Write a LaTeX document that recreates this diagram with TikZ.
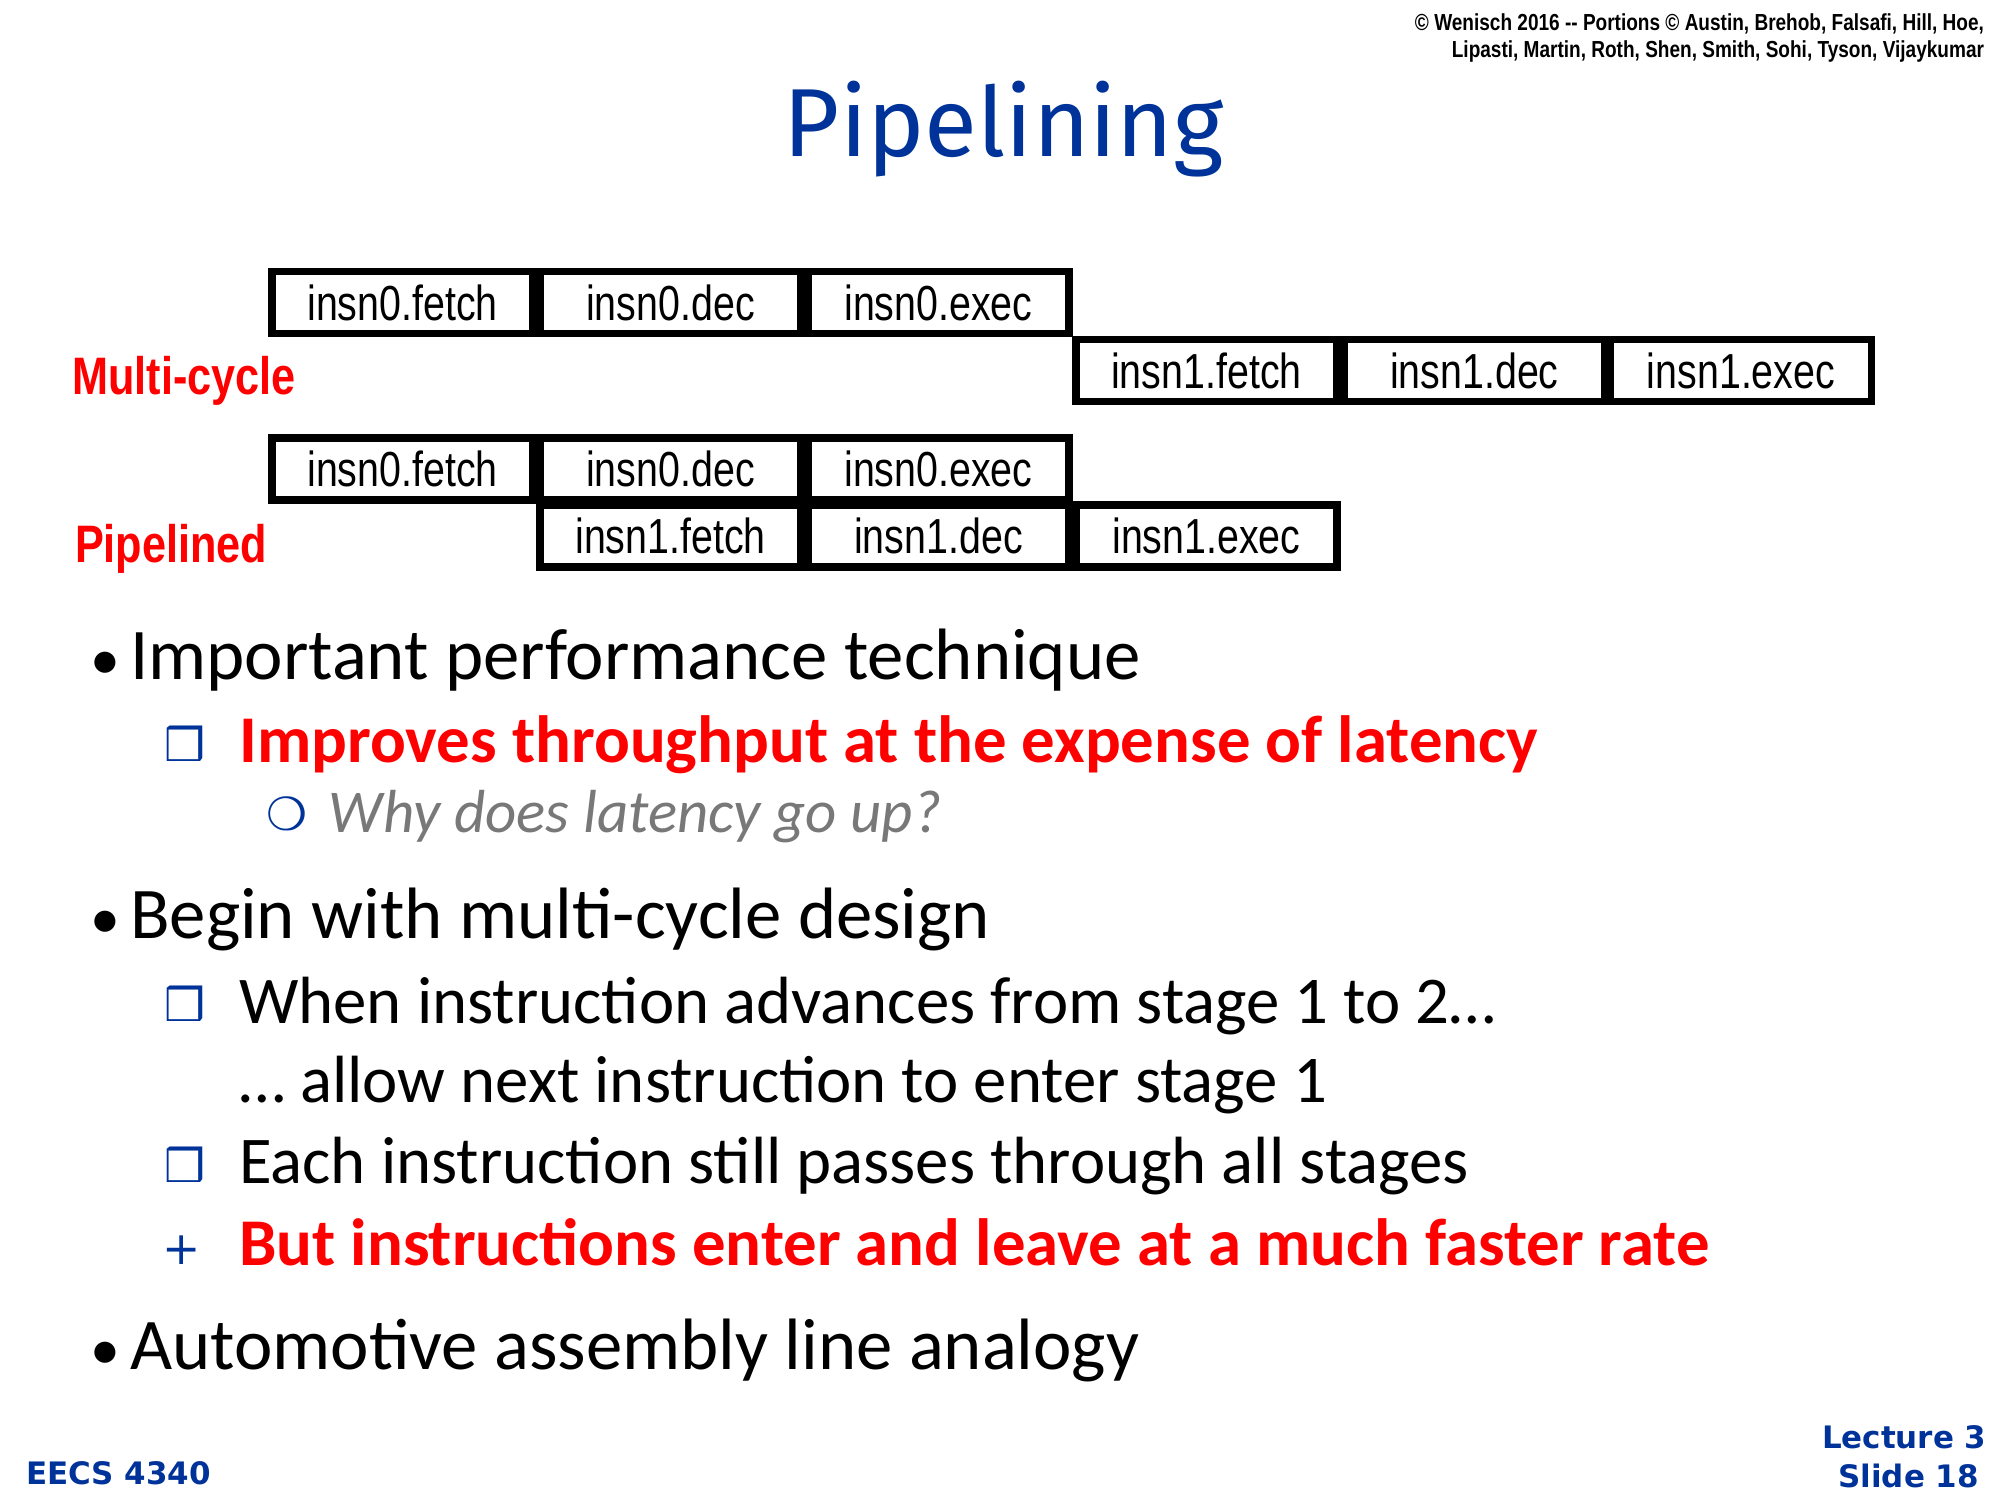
\documentclass[tikz,border=0pt]{standalone}
\usepackage{fontspec}
\setmainfont{Carlito}
\newfontfamily\narrowfont[FakeStretch=0.82]{Liberation Sans}
\newfontfamily\boxfont[FakeStretch=0.8]{Liberation Sans}
\newfontfamily\symfont{DejaVu Sans}
\newfontfamily\titlefont{Fira Sans}
\usetikzlibrary{positioning}
\definecolor{slideblue}{RGB}{0,51,153}
\definecolor{slidered}{RGB}{255,0,0}
\definecolor{slidegray}{RGB}{120,120,120}
\tikzset{
  % pipeline stage box
  stage/.style={draw, line width=2.2pt, minimum width=2.61cm, minimum height=0.62cm,
    inner sep=0pt, font=\boxfont\fontsize{14}{14}\selectfont},
  % row label
  rowlbl/.style={anchor=base west, text=slidered, inner sep=0pt,
    font=\narrowfont\bfseries\fontsize{15}{15}\selectfont},
  % text lines
  txt/.style={anchor=base west, inner sep=0pt},
  lvlA/.style={txt, font=\fontsize{20.7}{20.7}\selectfont},
  lvlB/.style={txt, font=\fontsize{19}{19}\selectfont},
  lvlC/.style={txt, font=\itshape\fontsize{17.3}{17.3}\selectfont, text=slidegray},
  dot/.style={txt, font=\fontsize{17}{17}\selectfont},
  bmark/.style={txt, text=slideblue, font=\symfont\fontsize{13}{13}\selectfont},
  foot/.style={inner sep=0pt, text=slideblue, font=\symfont\bfseries\fontsize{8.8}{8.8}\selectfont},
  copyl/.style={anchor=base east, inner sep=0pt, font=\narrowfont\bfseries\fontsize{6.6}{6.6}\selectfont},
}
\begin{document}
\begin{tikzpicture}[x=0.012821cm, y=-0.012821cm]
\useasboundingbox (0,0) rectangle (1560,1170);

% header
\node[copyl] (copy1) at (1548,24) {© Wenisch 2016 -- Portions © Austin, Brehob, Falsafi, Hill, Hoe,};
\node[copyl] (copy2) at (1548,45) {Lipasti, Martin, Roth, Shen, Smith, Sohi, Tyson, Vijaykumar};
\node[anchor=base, inner sep=0pt, text=slideblue,
  font=\titlefont\fontsize{27.5}{27.5}\selectfont] (title) at (783,122) {Pipelining};

% multi-cycle rows
\foreach \name/\lbl/\x/\y in {m0f/insn0.fetch/314/236, m0d/insn0.dec/523/236,
    m0e/insn0.exec/732/236, m1f/insn1.fetch/941/289, m1d/insn1.dec/1150/289,
    m1e/insn1.exec/1358/289,
    p0f/insn0.fetch/314/366, p0d/insn0.dec/523/366, p0e/insn0.exec/732/366,
    p1f/insn1.fetch/523/418, p1d/insn1.dec/732/418, p1e/insn1.exec/941/418}
  \node[stage] (\name) at (\x,\y) {\lbl};
\node[rowlbl] (multi) at (56,308) {Multi-cycle};
\node[rowlbl] (pipe) at (58,439) {Pipelined};

% bullets
\node[dot] at (70,530) {•};
\node[lvlA] (b1) at (101,530) {Important performance technique};
\node[bmark] at (128,594) {❒};
\node[lvlB, text=slidered, font=\bfseries\fontsize{19}{19}\selectfont] (b11) at (186,595)
  {Improves throughput at the expense of latency};
\node[bmark] at (207,648) {❍};
\node[lvlC] (b111) at (256,649) {Why does latency go up?};

\node[dot] at (70,732) {•};
\node[lvlA] (b2) at (101,732) {Begin with multi-cycle design};
\node[bmark] at (128,797) {❒};
\node[lvlB] (b21) at (186,798) {When instruction advances from stage 1 to 2…};
\node[lvlB] (b22) at (186,860) {… allow next instruction to enter stage 1};
\node[bmark] at (128,922) {❒};
\node[lvlB] (b23) at (186,923) {Each instruction still passes through all stages};
\node[bmark] at (126,986) {+};
\node[lvlB, text=slidered, font=\bfseries\fontsize{19}{19}\selectfont] (b24) at (186,987)
  {But instructions enter and leave at a much faster rate};

\node[dot] at (70,1068) {•};
\node[lvlA] (b3) at (101,1068) {Automotive assembly line analogy};

% footer
\node[foot, anchor=base west] (course) at (20,1158) {EECS 4340};
\node[foot, anchor=base east] (lect) at (1550,1130) {Lecture 3};
\node[foot, anchor=base east] (slide) at (1544,1160) {Slide 18};
\end{tikzpicture}
\end{document}
